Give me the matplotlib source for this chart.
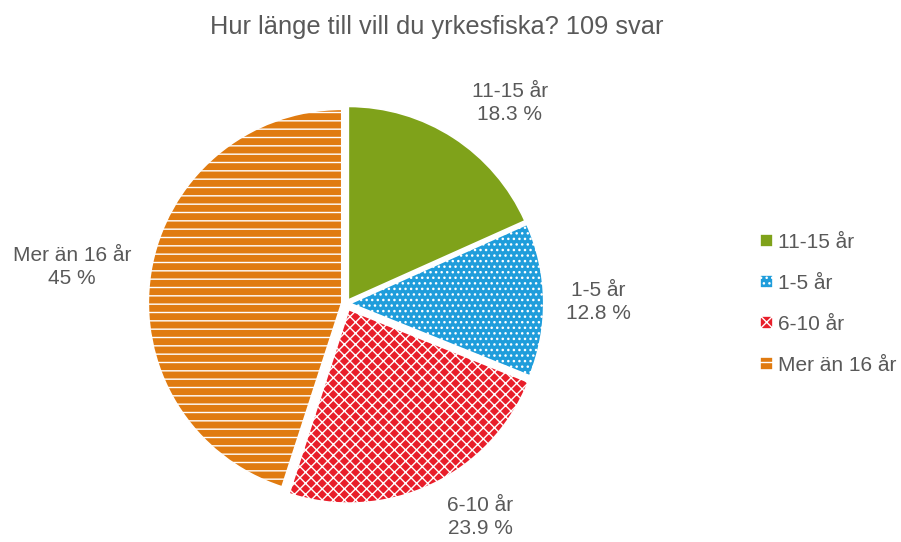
import matplotlib.pyplot as plt

plt.rcParams['font.family'] = ['Liberation Sans', 'DejaVu Sans']
plt.rcParams['hatch.linewidth'] = 1.0

categories = ['11-15 år', '1-5 år', '6-10 år', 'Mer än 16 år']
shares = [18.3, 12.8, 23.9, 45]
share_labels = ['18.3 %', '12.8 %', '23.9 %', '45 %']
colors = ['#7FA21A', '#1F9DDB', '#E81E2A', '#E07B10']
hatches = [None, '...', 'xxx', '--']
explode = [0.022, 0.022, 0.035, 0.022]

grey = '#595959'
cx, cy, r = 346, 303.5, 193.5

fig = plt.figure(figsize=(9.01, 5.42), dpi=100)
span = 2.4 * r
ax = fig.add_axes([(cx - span / 2) / 901, (542 - cy - span / 2) / 542,
                   span / 901, span / 542])

wedges, _ = ax.pie(shares, colors=colors, startangle=90, counterclock=False,
                   explode=explode, wedgeprops=dict(edgecolor='white', linewidth=1.2))
for w, h in zip(wedges, hatches):
    if h:
        w.set_hatch(h)
ax.set_xlim(-1.2, 1.2)
ax.set_ylim(-1.2, 1.2)
ax.set_aspect('equal')
ax.axis('off')

# label positions (pixels in the reference picture)
label_px = [(510, 103), (598, 302), (480, 517), (72, 267)]
for (px, py), cat, lab in zip(label_px, categories, share_labels):
    ax.text((px - cx) / r, (cy - py) / r, cat + '\n' + lab, ha='center', va='center',
            fontsize=15, color=grey, linespacing=1.25, clip_on=False)

fig.text(437 / 901, 1 - 27 / 542, 'Hur länge till vill du yrkesfiska? 109 svar',
         ha='center', va='center', fontsize=18.3, color=grey)

fig.legend(wedges, categories, loc='center left', bbox_to_anchor=(760 / 901, 1 - 304 / 542),
           frameon=False, fontsize=15, labelcolor=grey, handlelength=0.6, handleheight=0.6,
           handletextpad=0.25, labelspacing=1.05, borderpad=0, borderaxespad=0)

fig.savefig('out.png', dpi=100)
